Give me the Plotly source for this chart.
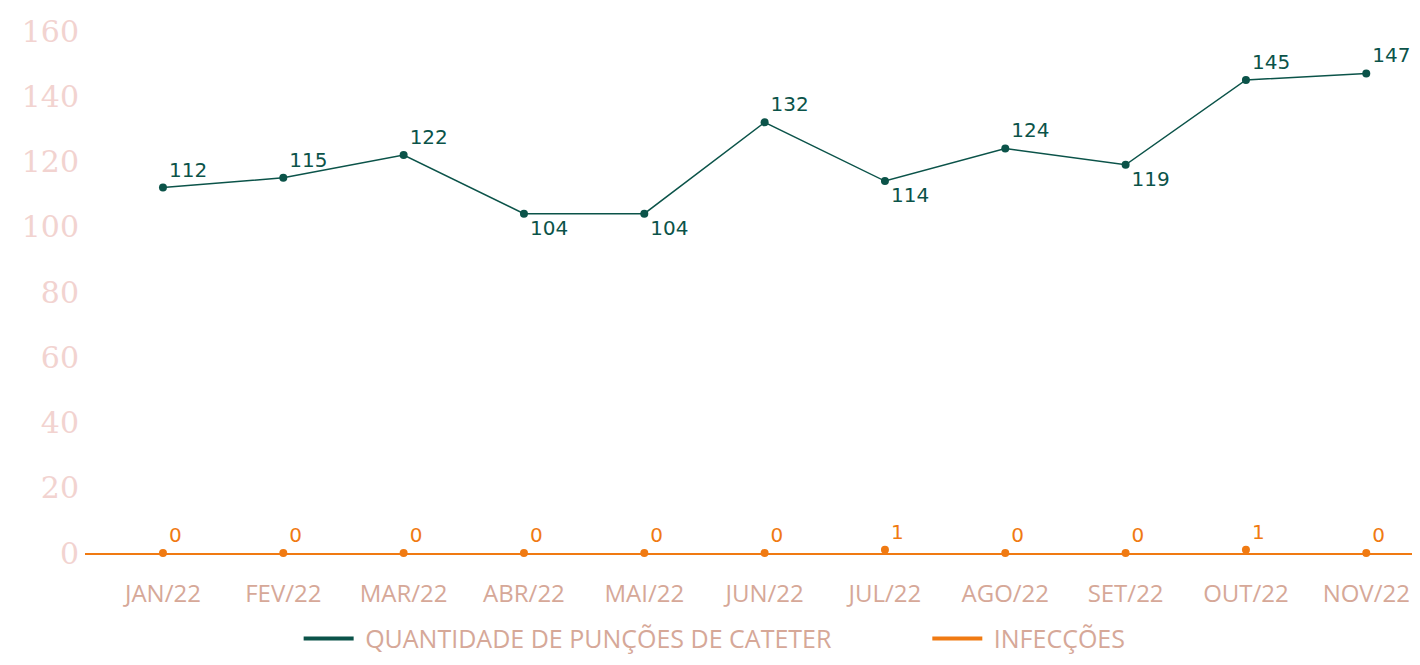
import plotly.graph_objects as go


# ==========================================================
# Data
# ==========================================================

MONTHS = [
    "JAN/22", "FEV/22", "MAR/22", "ABR/22", "MAI/22", "JUN/22",
    "JUL/22", "AGO/22", "SET/22", "OUT/22", "NOV/22",
]

PUNCOES = [112, 115, 122, 104, 104, 132, 114, 124, 119, 145, 147]

INFECCOES = [0, 0, 0, 0, 0, 0, 1, 0, 0, 1, 0]

PUNCOES_POS = [
    "top right", "top right", "top right", "bottom right", "bottom right",
    "top right", "bottom right", "top right", "bottom right", "top right",
    "top right",
]

GREEN = "#0b5349"
ORANGE = "#f07a12"
TICK_Y = "#f2d3d0"
TICK_X = "#d6a898"
FONT = "Open Sans"
LABEL_FONT = "DejaVu Sans"

NBSP = "\u00a0"


fig = go.Figure()

fig.add_trace(
    go.Scatter(
        x=MONTHS,
        y=PUNCOES,
        mode="lines+markers+text",
        text=[str(v) for v in PUNCOES],
        textposition=PUNCOES_POS,
        textfont=dict(color=GREEN, size=20, family=LABEL_FONT),
        line=dict(color=GREEN, width=1.5),
        marker=dict(color=GREEN, size=8),
        cliponaxis=False,
        showlegend=False,
    )
)

# orange series sits on the axis line, only dots + labels visible
fig.add_trace(
    go.Scatter(
        x=MONTHS,
        y=INFECCOES,
        mode="markers+text",
        text=[str(v) for v in INFECCOES],
        textposition="top right",
        textfont=dict(color=ORANGE, size=20, family=LABEL_FONT),
        marker=dict(color=ORANGE, size=8),
        cliponaxis=False,
        showlegend=False,
    )
)

# legend entries with thicker lines (nbsp padding for spacing)
legend_items = [
    (NBSP + "QUANTIDADE DE PUNÇÕES DE CATETER" + NBSP * 14, GREEN),
    (NBSP + "INFECÇÕES", ORANGE),
]
for name, color in legend_items:
    fig.add_trace(
        go.Scatter(
            x=[None],
            y=[None],
            mode="lines",
            name=name,
            line=dict(color=color, width=4),
        )
    )

fig.update_layout(
    width=1404,
    height=649,
    paper_bgcolor="white",
    plot_bgcolor="white",
    font=dict(family=FONT),
    margin=dict(l=77, r=0, t=23, b=104),
    legend=dict(
        orientation="h",
        x=0.161,
        xanchor="left",
        yref="container",
        y=0.028,
        yanchor="middle",
        font=dict(color=TICK_X, size=25, family=FONT),
        itemwidth=50,
    ),
)

fig.update_xaxes(
    type="category",
    range=[-0.648, 10.38],
    showgrid=False,
    zeroline=False,
    showline=True,
    linecolor=ORANGE,
    linewidth=2,
    ticks="",
    tickfont=dict(color=TICK_X, size=24, family=FONT),
    ticklabelstandoff=18,
)

fig.update_yaxes(
    range=[0, 160],
    dtick=20,
    showgrid=False,
    zeroline=False,
    showline=False,
    tickfont=dict(color=TICK_Y, size=30, family="DejaVu Serif"),
    ticklabelstandoff=5,
)

fig.write_html("out.html")
